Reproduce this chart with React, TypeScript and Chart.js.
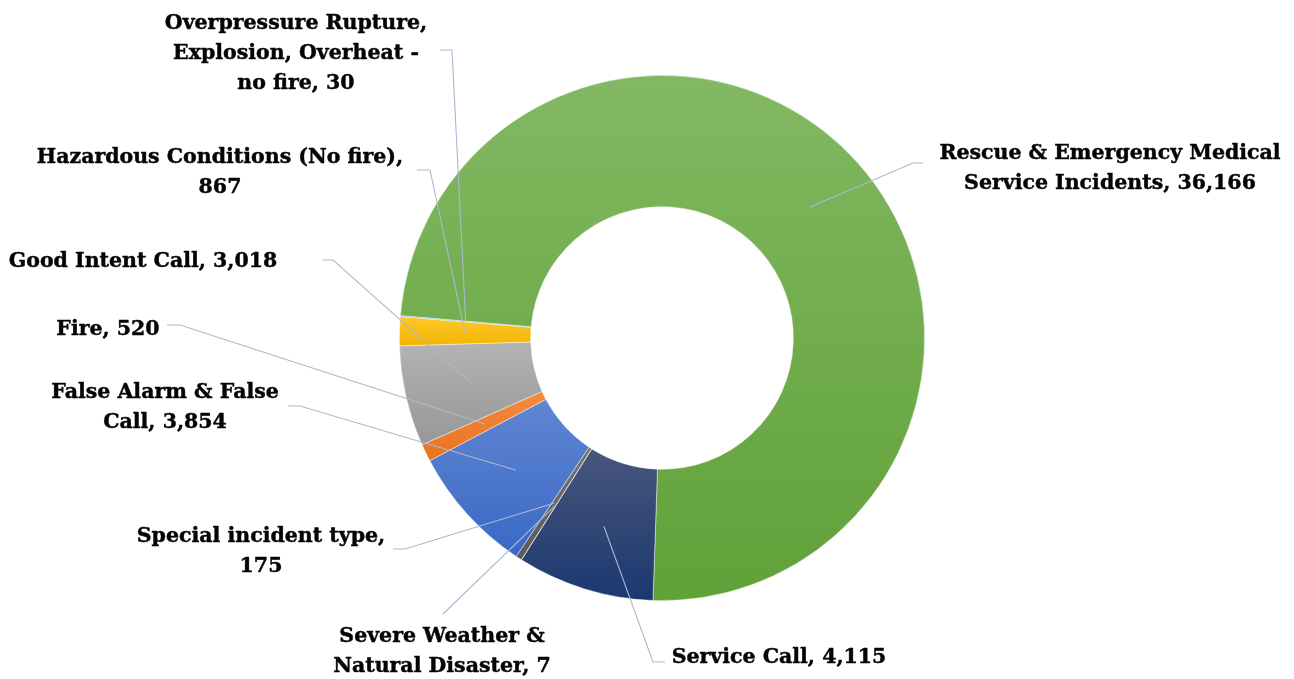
import { useEffect, useRef } from "react";
import { Chart, ArcElement, DoughnutController } from "chart.js";

Chart.register(ArcElement, DoughnutController);

// Incident categories (alphabetical, as they appear clockwise from the first slice)
const categories = [
  "False Alarm & False Call",
  "Fire",
  "Good Intent Call",
  "Hazardous Conditions (No fire)",
  "Overpressure Rupture, Explosion, Overheat - no fire",
  "Rescue & Emergency Medical Service Incidents",
  "Service Call",
  "Severe Weather & Natural Disaster",
  "Special incident type",
];

const incidentCounts = [3854, 520, 3018, 867, 30, 36166, 4115, 7, 175];

// Slice shading: lighter tone at the top of each slice, darker at the bottom
const topColors = ["#5f86d2", "#f48a42", "#b3b3b3", "#ffc72c", "#6aa7dd", "#82b862", "#48567c", "#a9551c", "#727272"];
const bottomColors = ["#3a68c4", "#e8731f", "#979797", "#f2b600", "#4e90cc", "#60a138", "#1b3870", "#8f3f08", "#5a5a5a"];

// How many words go on each line of a slice label
const wordsPerLine = [[4, 2], [2], [4], [4, 1], [2, 3, 3], [4, 3], [3], [3, 3], [3, 1]];

// Label anchors: centre x and first baseline y
const labelAnchors = [
  [165, 398], [108, 335], [143, 267], [220, 163], [296, 29],
  [1110, 159], [779, 663], [442, 642], [261, 542],
];

// Leader-line bends, starting at the label side
const leaderBends = [
  [[288, 406], [300, 406]],
  [[167, 325], [180, 325]],
  [[322, 260], [333, 260]],
  [[417, 170], [430, 170]],
  [[440, 50], [452, 50]],
  [[923, 163], [913, 163]],
  [[665, 662], [653, 662]],
  [[443, 614]],
  [[393, 549], [405, 549]],
];

const FONT = 'bold 20.5px "DejaVu Serif"';
const LINE_HEIGHT = 30;

const shadingPlugin = {
  id: "sliceShading",
  beforeDatasetsDraw(chart: any) {
    const meta = chart.getDatasetMeta(0);
    const ctx = chart.ctx as CanvasRenderingContext2D;
    meta.data.forEach((arc: any, i: number) => {
      const { y, startAngle, endAngle, innerRadius, outerRadius } = arc;
      let minY = Infinity;
      let maxY = -Infinity;
      const steps = 60;
      for (let s = 0; s <= steps; s++) {
        const a = startAngle + ((endAngle - startAngle) * s) / steps;
        for (const r of [innerRadius, outerRadius]) {
          const py = y + Math.sin(a) * r;
          minY = Math.min(minY, py);
          maxY = Math.max(maxY, py);
        }
      }
      if (maxY - minY < 1) maxY = minY + 1;
      const g = ctx.createLinearGradient(0, minY, 0, maxY);
      g.addColorStop(0, topColors[i]);
      g.addColorStop(1, bottomColors[i]);
      arc.options.backgroundColor = g;
    });
  },
};

const labelPlugin = {
  id: "sliceLabels",
  afterDatasetsDraw(chart: any) {
    const ctx = chart.ctx as CanvasRenderingContext2D;
    const meta = chart.getDatasetMeta(0);
    ctx.save();
    meta.data.forEach((arc: any, i: number) => {
      const p = arc.getCenterPoint();
      const bends = leaderBends[i];
      ctx.beginPath();
      ctx.moveTo(bends[0][0], bends[0][1]);
      for (let k = 1; k < bends.length; k++) ctx.lineTo(bends[k][0], bends[k][1]);
      ctx.lineTo(p.x, p.y);
      ctx.strokeStyle = "#a9bad0";
      ctx.lineWidth = 1.1;
      ctx.stroke();
    });
    ctx.font = FONT;
    ctx.fillStyle = "#050505";
    ctx.strokeStyle = "#050505";
    ctx.lineWidth = 0.45;
    ctx.lineJoin = "round";
    ctx.textAlign = "center";
    ctx.textBaseline = "alphabetic";
    categories.forEach((name, i) => {
      const words = `${name}, ${incidentCounts[i].toLocaleString("en-US")}`.split(" ");
      let k = 0;
      const lines = wordsPerLine[i].map((n) => {
        const ln = words.slice(k, k + n).join(" ");
        k += n;
        return ln;
      });
      const [cx, cy] = labelAnchors[i];
      lines.forEach((ln, j) => {
        ctx.fillText(ln, cx, cy + j * LINE_HEIGHT);
        ctx.strokeText(ln, cx, cy + j * LINE_HEIGHT);
      });
    });
    ctx.restore();
  },
};

export default function App() {
  const canvasRef = useRef<HTMLCanvasElement | null>(null);

  useEffect(() => {
    if (!canvasRef.current) return;
    const chart = new Chart(canvasRef.current, {
      type: "doughnut",
      data: {
        labels: categories,
        datasets: [
          {
            data: incidentCounts,
            backgroundColor: bottomColors,
            borderColor: "rgba(255,255,255,0.6)",
            borderWidth: 0.75,
          },
        ],
      },
      options: {
        animation: false,
        responsive: true,
        maintainAspectRatio: false,
        rotation: 213.7,
        cutout: "50%",
        layout: { padding: { left: 399, right: 369, top: 75, bottom: 78 } },
        plugins: {
          legend: { display: false },
          tooltip: { enabled: false },
        },
        events: [],
      },
      plugins: [shadingPlugin, labelPlugin],
    });
    return () => chart.destroy();
  }, []);

  return (
    <div style={{ position: "fixed", left: 0, top: 0, width: 1294, height: 679, background: "#ffffff" }}>
      <canvas ref={canvasRef} />
    </div>
  );
}
